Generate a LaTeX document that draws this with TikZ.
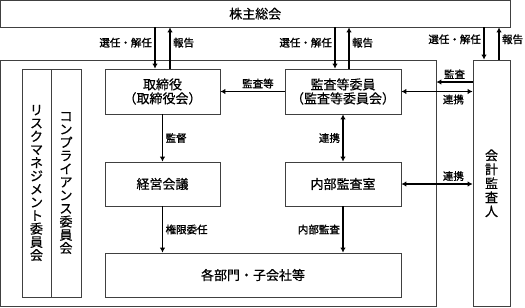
\documentclass[tikz,border=0pt]{standalone}
\usepackage{fontspec}
\setmainfont{Noto Sans CJK JP}[FakeBold=0.6]
\newfontfamily\lblfont{Noto Sans CJK JP}[FakeBold=1.2]
\usetikzlibrary{arrows.meta}

\begin{document}
\begin{tikzpicture}[
    x=1pt, y=-1pt,
    box/.style={draw=black!75, line width=0.8pt, inner sep=0pt, align=center,
                font=\fontsize{13}{14}\selectfont},
    vbox/.style={box, font=\fontsize{13}{13.2}\selectfont},
    lbl/.style={font=\lblfont\fontsize{10.5}{12}\selectfont, inner sep=2.5pt},
    arr/.style={-{Latex[length=5pt,width=5.5pt]}, line width=1.2pt},
    darr/.style={{Latex[length=5pt,width=5.5pt]}-{Latex[length=5pt,width=5.5pt]}, line width=1.2pt},
]
\useasboundingbox (0,0) rectangle (525,308);

% boxes
\node[box, minimum width=509.5pt, minimum height=26.5pt] (soukai) at (255.25,13.75) {株主総会};
\node[box, minimum width=435.5pt, minimum height=246.5pt] (outer) at (218.25,183.25) {};
\node[vbox, minimum width=37pt, minimum height=246.5pt, font=\fontsize{13}{14}\selectfont] (kaikei) at (491.5,183.25) {会\\計\\監\\査\\人};
\node[vbox, minimum width=29pt, minimum height=228pt] (risk) at (36.5,183) {リ\\ス\\ク\\マ\\ネ\\ジ\\メ\\ン\\ト\\委\\員\\会};
\node[vbox, minimum width=30pt, minimum height=228pt] (compl) at (66,183) {コ\\ン\\プ\\ラ\\イ\\ア\\ン\\ス\\委\\員\\会};
\node[box, minimum width=115pt, minimum height=45pt] (tori) at (162.5,91.5) {取締役\\（取締役会）};
\node[box, minimum width=116pt, minimum height=45pt] (kansa) at (343,91.5) {監査等委員\\（監査等委員会）};
\node[box, minimum width=115pt, minimum height=44pt] (keiei) at (162.5,184) {経営会議};
\node[box, minimum width=116pt, minimum height=44pt] (naibu) at (343,184) {内部監査室};
\node[box, minimum width=296pt, minimum height=44pt] (kakubu) at (253,275) {各部門・子会社等};

% from / to the shareholders' meeting
\coordinate (tdn) at ([xshift=-7.5pt]tori.north);
\coordinate (tup) at ([xshift=7.5pt]tori.north);
\coordinate (kdn) at ([xshift=-8pt]kansa.north);
\coordinate (kup) at ([xshift=6pt]kansa.north);
\coordinate (adn) at ([xshift=-7.5pt]kaikei.north);
\coordinate (aup) at ([xshift=7.5pt]kaikei.north);
\draw[arr] (soukai.south -| tdn) -- node[lbl, left, pos=0.37] {選任・解任} (tdn);
\draw[arr] (tup) -- node[lbl, right, pos=0.63] {報告} (tup |- soukai.south);
\draw[arr] (soukai.south -| kdn) -- node[lbl, left, pos=0.37] {選任・解任} (kdn);
\draw[arr] (kup) -- node[lbl, right, pos=0.63] {報告} (kup |- soukai.south);
\draw[arr] (soukai.south -| adn) -- node[lbl, left, pos=0.37] {選任・解任} (adn);
\draw[arr] (aup) -- node[lbl, right, pos=0.63] {報告} (aup |- soukai.south);

% inside
\draw[arr] (kansa) -- node[lbl, above, pos=0.415] {監査等} (tori);
\draw[arr] (tori) -- node[lbl, right] {監督} (keiei);
\draw[darr] (kansa) -- node[lbl, left] {連携} (naibu);
\draw[arr] (keiei) -- node[lbl, right] {権限委任} (keiei.south |- kakubu.north);
\draw[arr] (naibu) -- node[lbl, left] {内部監査} (naibu.south |- kakubu.north);

% external auditor
\coordinate (kp) at ([yshift=9.5pt]kansa.east);
\draw[arr] (kp -| kaikei.west) -- node[lbl, above] {監査} (kp -| outer.east);
\draw[darr] (kansa.east) -- node[lbl, below, pos=0.73] {連携} (kansa.east -| kaikei.west);
\draw[darr] (naibu.east) -- node[lbl, above, pos=0.73] {連携} (naibu.east -| kaikei.west);
\end{tikzpicture}
\end{document}
